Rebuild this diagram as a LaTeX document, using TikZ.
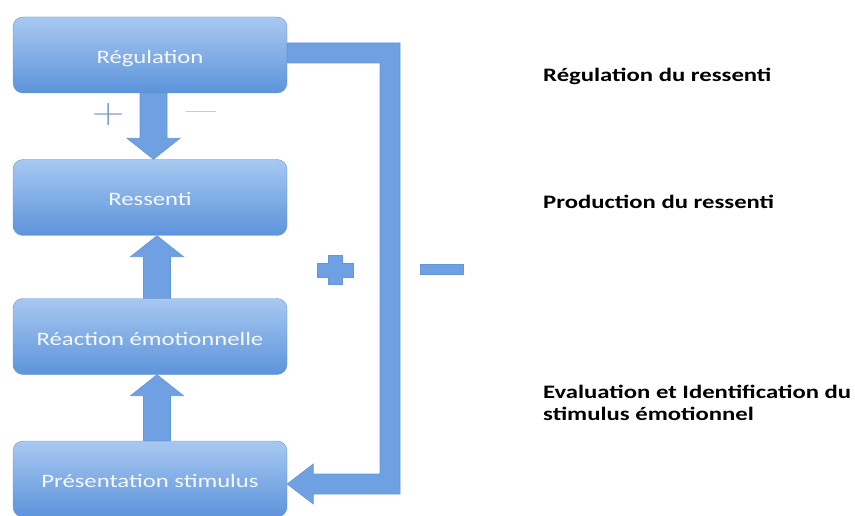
\documentclass[tikz,border=0pt]{standalone}
\usepackage{fontspec}
\newfontfamily\etiq[FakeStretch=1.3]{Carlito}
\usetikzlibrary{calc}

\definecolor{bleuhaut}{HTML}{A8C8F1}
\definecolor{bleubas}{HTML}{5C94DB}
\definecolor{bleubord}{HTML}{6596D6}
\definecolor{bleufleche}{HTML}{6FA1E2}
\definecolor{gristrait}{HTML}{7D9AC0}

\tikzset{
  boite/.style={rounded corners=10pt, minimum width=274pt, minimum height=76pt, text height=17pt, text depth=0pt, top color=bleuhaut, bottom color=bleubas, draw=bleubord, text=white!88!bleuhaut, font=\etiq\fontsize{19}{22}\selectfont},
  fleche/.style={fill=bleufleche, draw=bleubord, line width=0.6pt},
  legende/.style={anchor=base west, inner sep=0pt, align=left, font=\etiq\bfseries\fontsize{19}{22}\selectfont},
  signe/.style={text=gristrait, inner sep=0pt, anchor=base},
}

% grosse fleche verticale : depart, arrivee, decalage en x
\newcommand{\flecheV}[3]{%
  \draw[fleche] let \p1=($(#1)+(#3,0)$), \p2=($(#2)+(#3,0)$), \p3=($(\p2)!21pt!(\p1)$) in
    (\x1-13.5pt,\y1) -- (\x1-13.5pt,\y3) -- (\x1-26.5pt,\y3) -- (\x2,\y2)
    -- (\x1+26.5pt,\y3) -- (\x1+13.5pt,\y3) -- (\x1+13.5pt,\y1) -- cycle;}

\begin{document}
\begin{tikzpicture}[x=1pt,y=-1pt] % on compte en pixels, y vers le bas
\useasboundingbox (0,0) rectangle (855,516);

\node[boite] (reg) at (150,55) {Régulation};
\node[boite] (ress) at (150,197.5) {Ressenti};
\node[boite] (reac) at (150,336.5) {Réaction émotionnelle};
\node[boite] (pres) at (150,479) {Présentation stimulus};
\coordinate (coude) at (390,0);

\flecheV{reg.south}{ress.north}{3.5}
\flecheV{reac.north}{ress.south}{7}
\flecheV{pres.north}{reac.south}{7}

\draw[fleche] let \p1=(reg.east), \p2=($(pres.east)+(0,5)$), \p3=(coude) in
  (\x1,\y1+12pt) -- (\x3+10pt,\y1+12pt) -- (\x3+10pt,\y2-10pt) -- (\x2+26pt,\y2-10pt)
  -- (\x2+26pt,\y2-20pt) -- (\x2,\y2) -- (\x2+26pt,\y2+20pt) -- (\x2+26pt,\y2+10pt)
  -- (\x3-10pt,\y2+10pt) -- (\x3-10pt,\y1-8pt) -- (\x1,\y1-8pt) -- cycle;

\node[signe,font=\fontsize{36}{36}\selectfont,xscale=1.25] (plus) at (108.5,124) {+};
\node[signe,font=\fontsize{32}{32}\selectfont] (moins) at (201,120.5) {---};

\draw[fleche] (328,255) -- (342,255) -- (342,263) -- (353,263) -- (353,277) -- (342,277) -- (342,284)
  -- (328,284) -- (328,277) -- (317,277) -- (317,263) -- (328,263) -- cycle;
\draw[fleche] (420,264) rectangle (463,274);

\node[legende] (lreg) at (543,82) {Régulation du ressenti};
\node[legende] (lprod) at (543,208) {Production du ressenti};
\node[legende] (leval) at (543,420) {Evaluation et Identification du\\stimulus émotionnel};
\end{tikzpicture}
\end{document}
